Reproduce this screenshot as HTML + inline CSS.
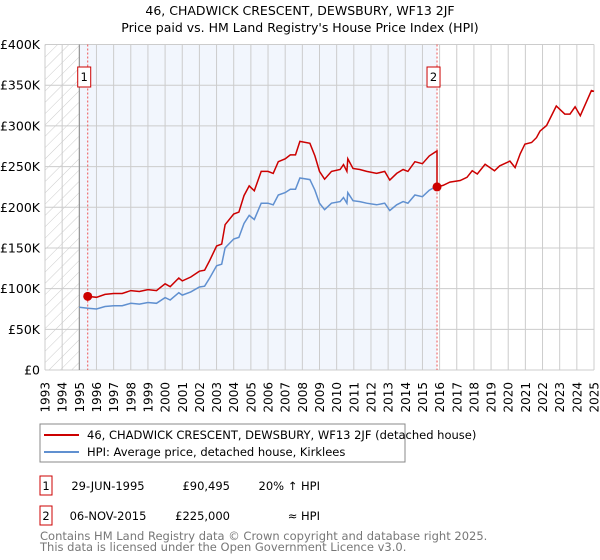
<!DOCTYPE html>
<html><head><meta charset="utf-8"><style>
body{margin:0;background:#fff;font-family:"Liberation Sans","DejaVu Sans",sans-serif;}
svg{display:block}
</style></head><body>
<svg width="600" height="560" viewBox="0 0 600 560" font-family="DejaVu Sans, Liberation Sans, sans-serif">
<defs><pattern id="hatch" width="8" height="8" patternUnits="userSpaceOnUse" patternTransform="rotate(45)"><line x1="0" y1="0" x2="0" y2="8" stroke="#ccc" stroke-width="1"/></pattern></defs>
<text x="300" y="15" text-anchor="middle" font-size="12.5">46, CHADWICK CRESCENT, DEWSBURY, WF13 2JF</text>
<text x="300" y="32" text-anchor="middle" font-size="12.5">Price paid vs. HM Land Registry's House Price Index (HPI)</text>
<g id="plot"></g>
<g>
<rect x="40" y="424" width="365" height="38" fill="#fff" stroke="#888"/>
<line x1="44" y1="435" x2="79" y2="435" stroke="#cc0000" stroke-width="2"/>
<text x="87" y="439" font-size="11.5">46, CHADWICK CRESCENT, DEWSBURY, WF13 2JF (detached house)</text>
<line x1="44" y1="452" x2="79" y2="452" stroke="#6090d0" stroke-width="2"/>
<text x="87" y="456" font-size="11.5">HPI: Average price, detached house, Kirklees</text>
</g>
<g font-size="11.5">
<rect x="40" y="476" width="12" height="19" fill="#fff" stroke="#cc0000"/>
<text x="46" y="490" text-anchor="middle">1</text>
<text x="108" y="490" text-anchor="middle">29-JUN-1995</text>
<text x="230" y="490" text-anchor="end">£90,495</text>
<text x="320" y="490" text-anchor="end">20% ↑ HPI</text>
<rect x="40" y="506" width="12" height="19" fill="#fff" stroke="#cc0000"/>
<text x="46" y="520" text-anchor="middle">2</text>
<text x="108" y="520" text-anchor="middle">06-NOV-2015</text>
<text x="230" y="520" text-anchor="end">£225,000</text>
<text x="320" y="520" text-anchor="end">≈ HPI</text>
</g>
<text x="40" y="540" font-size="11.5" fill="#777">Contains HM Land Registry data © Crown copyright and database right 2025.</text>
<text x="40" y="551" font-size="11.5" fill="#777">This data is licensed under the Open Government Licence v3.0.</text>
</svg>
<script>
const hpiYears=[1995.0,1995.5,1996.0,1996.5,1997.0,1997.5,1998.0,1998.5,1999.0,1999.5,2000.0,2000.3,2000.8,2001.0,2001.5,2002.0,2002.3,2002.6,2003.0,2003.3,2003.5,2004.0,2004.3,2004.6,2004.9,2005.2,2005.6,2006.0,2006.3,2006.6,2007.0,2007.3,2007.6,2007.86,2008.44,2008.73,2009.0,2009.3,2009.7,2010.2,2010.4,2010.6,2010.65,2010.95,2011.35,2011.75,2012.33,2012.8,2013.1,2013.5,2013.87,2014.15,2014.56,2015.0,2015.4,2015.83,2016.2,2016.6,2017.2,2017.6,2017.9,2018.2,2018.65,2019.2,2019.5,2020.1,2020.4,2020.7,2020.97,2021.36,2021.65,2021.85,2022.24,2022.8,2023.3,2023.6,2023.9,2024.2,2024.85,2025.0];
const hpiValues=[77,76,75,78,79,79,82,81,83,82,89,86,95,92,96,102,103,113,128,130,150,161,163,180,190,185,205,205,203,215,218,222,222,236,234,221,205,197,205,207,212,205,218,208,207,205,203,205,196,203,207,205,215,213,221,226,228,232,234,238,246,242,254,246,252,258,250,267,279,281,287,295,302,326,316,316,325,314,345,344];
const saleYears=[1995.49,2015.85];
const salePrices=[90.495,225];
const saleLabels=["1","2"];
const yTicks=[0,50,100,150,200,250,300,350,400];
const yTickLabels=["£0","£50K","£100K","£150K","£200K","£250K","£300K","£350K","£400K"];
const xTicks=[1993,1994,1995,1996,1997,1998,1999,2000,2001,2002,2003,2004,2005,2006,2007,2008,2009,2010,2011,2012,2013,2014,2015,2016,2017,2018,2019,2020,2021,2022,2023,2024,2025];

const X0=45,X1=594,Y0=370,Y1=44.5;
const xs=y=>X0+(y-1993)/(2025-1993)*(X1-X0);
const ys=v=>Y0-v/400*(Y0-Y1);
const NS="http://www.w3.org/2000/svg";
const g=document.getElementById('plot');
function mk(t,a){const e=document.createElementNS(NS,t);for(const k in a)e.setAttribute(k,a[k]);g.appendChild(e);return e;}
function hpiAt(t){for(let i=1;i<hpiYears.length;i++){if(t<=hpiYears[i]){const f=(t-hpiYears[i-1])/(hpiYears[i]-hpiYears[i-1]);return hpiValues[i-1]+f*(hpiValues[i]-hpiValues[i-1]);}}return hpiValues[hpiValues.length-1];}

let e=mk('rect',{x:X0,y:Y1,width:xs(1995)-X0,height:Y0-Y1,fill:'url(#hatch)'});


e=mk('rect',{x:xs(1995),y:Y1,width:xs(saleYears[1])-xs(1995),height:Y0-Y1,fill:'#f2f6fd'});


xTicks.forEach(t=>{
 const l=mk('line',{x1:xs(t),x2:xs(t),y1:Y1,y2:Y0,stroke:'#cccccc','stroke-width':1});
 
 
 const tx=mk('text',{x:0,y:0,'font-size':12,'text-anchor':'end',transform:`translate(${xs(t)+4.5},382) rotate(-90)`});
 tx.textContent=t;
 
 
});
yTicks.forEach((v,i)=>{
 const l=mk('line',{x1:X0,x2:X1,y1:ys(v),y2:ys(v),stroke:'#cccccc','stroke-width':1});
 
 
 const tx=mk('text',{x:40,y:ys(v)+4.5,'font-size':12.5,'text-anchor':'end'});
 tx.textContent=yTickLabels[i];
 
 
});
e=mk('line',{x1:xs(1995),x2:xs(1995),y1:Y1,y2:Y0,stroke:'#888','stroke-width':1});


saleYears.forEach((s,i)=>{
 const l=mk('line',{x1:xs(s),x2:xs(s),y1:Y1,y2:Y0,stroke:'#ee5555','stroke-width':1,'stroke-dasharray':'2,2'});
 
 
});
// HPI line (up to sale 2)
let p='';hpiYears.forEach((t,i)=>{if(t<=saleYears[1]+0.01)p+=(p?'L':'M')+xs(t).toFixed(1)+','+ys(hpiValues[i]).toFixed(1);});
e=mk('path',{d:p,fill:'none',stroke:'#6090d0','stroke-width':1.5});


// property line
const r1=salePrices[0]/hpiAt(saleYears[0]),r2=salePrices[1]/hpiAt(saleYears[1]);
let q='M'+xs(saleYears[0]).toFixed(1)+','+ys(salePrices[0]).toFixed(1);
hpiYears.forEach((t,i)=>{if(t>saleYears[0]&&t<saleYears[1])q+='L'+xs(t).toFixed(1)+','+ys(hpiValues[i]*r1).toFixed(1);});
q+='L'+xs(saleYears[1]).toFixed(1)+','+ys(hpiAt(saleYears[1])*r1).toFixed(1);
q+='L'+xs(saleYears[1]).toFixed(1)+','+ys(salePrices[1]).toFixed(1);
hpiYears.forEach((t,i)=>{if(t>saleYears[1])q+='L'+xs(t).toFixed(1)+','+ys(hpiValues[i]*r2).toFixed(1);});
e=mk('path',{d:q,fill:'none',stroke:'#cc0000','stroke-width':1.5});


saleYears.forEach((s,i)=>{
 const c=mk('circle',{cx:xs(s),cy:ys(salePrices[i]),r:4.5,fill:'#cc0000'});
 
 
 const b=mk('rect',{x:xs(s)-10,y:67,width:13,height:20,fill:'#fff',stroke:'#cc0000'});
 
 
 const t=mk('text',{x:xs(s)-3.5,y:81,'font-size':11.5,'text-anchor':'middle'});
 t.textContent=saleLabels[i];
 
 
});
</script>
</body></html>
